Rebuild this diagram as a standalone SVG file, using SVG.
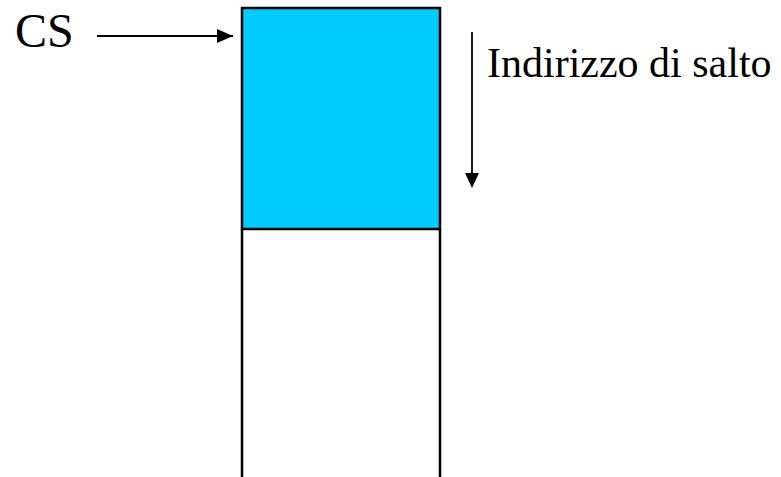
<svg xmlns="http://www.w3.org/2000/svg" width="781" height="477" viewBox="0 0 781 477">
  <style>
    .lbl { font-family: "Liberation Serif", "Times New Roman", serif; fill: #000; }
    .edge { stroke: #000; stroke-width: 2; fill: none; }
    .wall { stroke: #000; stroke-width: 2.5; fill: none; }
  </style>
  <defs>
    <marker id="tip" viewBox="0 0 10 10" refX="10" refY="5" markerWidth="8" markerHeight="8" markerUnits="userSpaceOnUse" orient="auto">
      <path d="M0,0 L10,5 L0,10 Z" fill="#000"/>
    </marker>
  </defs>
  <rect width="781" height="477" fill="#fff"/>

  <!-- memory segment: highlighted block on top of the open column -->
  <g id="segment">
    <rect x="242" y="8" width="198" height="221" fill="#00ccff" stroke="#000" stroke-width="2.5"/>
    <path class="wall" d="M242,229 V477 M440,229 V477"/>
  </g>

  <g id="cs-label">
    <text class="lbl" x="15" y="47" font-size="48">CS</text>
  </g>

  <g id="offset-label">
    <text class="lbl" x="487" y="77" font-size="42">Indirizzo di salto</text>
  </g>

  <g id="connectors">
    <line class="edge" x1="97" y1="36" x2="233" y2="36" style="stroke-width:1.8"/>
    <path d="M217,29 L233,36 L217,43 Z" fill="#000"/>
    <line class="edge" x1="472" y1="32" x2="472" y2="175" style="stroke-width:1.8"/>
    <path d="M465,173 L479,173 L472,188 Z" fill="#000"/>
  </g>
</svg>
